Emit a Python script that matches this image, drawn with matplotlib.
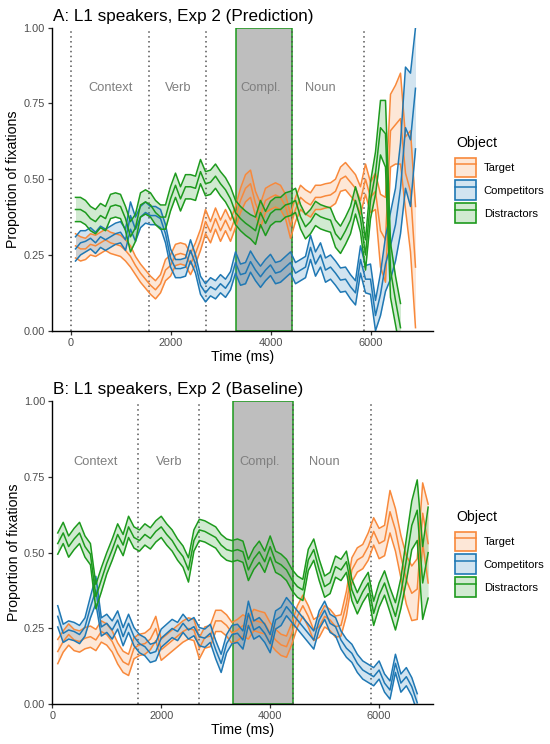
import numpy as np
import matplotlib
matplotlib.use("Agg")
import matplotlib.pyplot as plt
from matplotlib.patches import Patch, Rectangle
from matplotlib.lines import Line2D
from matplotlib.colors import to_rgba

plt.rcParams['font.family'] = ['Liberation Sans', 'DejaVu Sans']

# ---------------- data ----------------
time_ms = list(range(100, 7000, 100))  # sampling grid 100..6900 ms

series_names = ["Target", "Competitors", "Distractors"]
series_colors = ["#F8893B", "#1F78B4", "#1D9A1D"]

phase_labels = ["Context", "Verb", "Compl.", "Noun"]
phase_label_x = [800, 2150, 3800, 5000]
phase_lines = [0, 1570, 2700, 4420, 5860]
compl_start, compl_end = 3310, 4420

# Panel A (Prediction)
a_target = [0.28,0.27,0.27,0.285,0.28,0.29,0.30,0.29,0.285,0.28,
            0.265,0.245,0.215,0.19,0.17,0.15,0.135,0.155,0.20,0.215,
            0.25,0.255,0.25,0.22,0.255,0.30,0.36,0.325,0.37,0.33,
            0.365,0.33,0.375,0.43,0.47,0.485,0.42,0.38,0.43,0.44,
            0.448,0.44,0.41,0.345,0.40,0.44,0.425,0.415,0.44,0.44,
            0.445,0.448,0.46,0.50,0.51,0.49,0.47,0.43,0.50,0.44,
            0.46,0.33,0.30,0.66,0.68,0.70,0.52,0.46,0.21]
a_target_se = [0.04,0.04,0.035,0.035,0.035,0.035,0.035,0.035,0.035,0.035,
               0.035,0.035,0.03,0.03,0.03,0.03,0.03,0.03,0.035,0.035,
               0.035,0.035,0.035,0.035,0.035,0.035,0.04,0.035,0.035,0.035,
               0.035,0.035,0.035,0.04,0.045,0.045,0.04,0.04,0.04,0.04,
               0.04,0.04,0.04,0.04,0.04,0.04,0.04,0.04,0.04,0.04,
               0.04,0.04,0.04,0.04,0.045,0.045,0.045,0.045,0.05,0.05,
               0.06,0.12,0.14,0.12,0.13,0.15,0.12,0.2,0.2]
a_comp = [0.27,0.29,0.295,0.305,0.29,0.31,0.30,0.31,0.32,0.325,
          0.30,0.38,0.335,0.375,0.39,0.38,0.38,0.37,0.32,0.24,
          0.205,0.205,0.21,0.265,0.22,0.15,0.125,0.145,0.135,0.155,
          0.14,0.165,0.225,0.185,0.19,0.228,0.20,0.178,0.20,0.217,
          0.19,0.195,0.21,0.225,0.19,0.20,0.21,0.275,0.22,0.25,
          0.20,0.21,0.19,0.167,0.17,0.145,0.125,0.235,0.17,0.17,
          0.05,0.12,0.22,0.28,0.35,0.47,0.67,0.63,0.80]
a_comp_se = [0.04,0.04,0.035,0.035,0.035,0.035,0.035,0.035,0.035,0.035,
             0.035,0.045,0.04,0.035,0.035,0.03,0.03,0.03,0.03,0.03,
             0.03,0.03,0.03,0.035,0.03,0.03,0.03,0.03,0.03,0.03,
             0.03,0.03,0.035,0.035,0.035,0.035,0.035,0.035,0.035,0.035,
             0.035,0.035,0.035,0.035,0.035,0.035,0.035,0.04,0.04,0.04,
             0.04,0.04,0.04,0.04,0.04,0.04,0.04,0.045,0.045,0.05,
             0.05,0.07,0.09,0.11,0.12,0.15,0.2,0.22,0.2]
a_dist = [0.40,0.40,0.39,0.37,0.36,0.38,0.37,0.41,0.415,0.41,
          0.37,0.31,0.34,0.415,0.425,0.415,0.39,0.375,0.375,0.435,
          0.48,0.435,0.475,0.475,0.47,0.525,0.485,0.49,0.51,0.485,
          0.465,0.435,0.39,0.37,0.355,0.343,0.33,0.39,0.354,0.387,
          0.40,0.40,0.415,0.42,0.43,0.376,0.343,0.36,0.387,0.376,
          0.37,0.365,0.32,0.30,0.33,0.365,0.43,0.37,0.25,0.43,
          0.52,0.67,0.65,0.20,0.10,0.01]
a_dist_se = [0.04,0.04,0.04,0.04,0.04,0.04,0.04,0.04,0.04,0.04,
             0.04,0.05,0.045,0.04,0.04,0.04,0.04,0.04,0.04,0.04,
             0.04,0.04,0.04,0.04,0.04,0.04,0.04,0.04,0.04,0.04,
             0.04,0.04,0.04,0.04,0.04,0.04,0.045,0.04,0.04,0.04,
             0.04,0.04,0.04,0.04,0.04,0.04,0.04,0.04,0.04,0.04,
             0.04,0.04,0.045,0.045,0.045,0.045,0.045,0.045,0.05,0.06,
             0.07,0.09,0.11,0.09,0.08,0.08]

# Panel B (Baseline)
b_target = [0.174,0.207,0.23,0.212,0.207,0.218,0.223,0.212,0.24,0.23,
            0.207,0.168,0.14,0.13,0.185,0.196,0.20,0.215,0.25,0.18,
            0.195,0.21,0.225,0.24,0.25,0.245,0.185,0.22,0.225,0.275,
            0.275,0.26,0.235,0.245,0.26,0.25,0.278,0.272,0.267,0.234,
            0.212,0.196,0.19,0.234,0.29,0.325,0.29,0.245,0.256,0.29,
            0.278,0.256,0.26,0.333,0.443,0.476,0.487,0.52,0.57,0.53,
            0.54,0.635,0.575,0.487,0.41,0.366,0.38,0.63,0.53]
b_target_se = [0.04,0.035,0.035,0.035,0.035,0.035,0.035,0.035,0.035,0.035,
               0.035,0.035,0.035,0.035,0.035,0.035,0.035,0.035,0.04,0.035,
               0.035,0.035,0.035,0.035,0.035,0.035,0.035,0.035,0.035,0.035,
               0.035,0.035,0.035,0.035,0.035,0.035,0.035,0.035,0.035,0.035,
               0.035,0.035,0.035,0.035,0.035,0.035,0.035,0.035,0.035,0.035,
               0.035,0.035,0.035,0.04,0.04,0.04,0.04,0.045,0.045,0.05,
               0.05,0.07,0.07,0.07,0.08,0.09,0.1,0.1,0.13]
b_comp = [0.29,0.234,0.245,0.24,0.23,0.255,0.32,0.377,0.255,0.267,
          0.245,0.278,0.223,0.267,0.223,0.20,0.19,0.168,0.174,0.218,
          0.234,0.25,0.24,0.267,0.245,0.256,0.223,0.218,0.234,0.18,
          0.135,0.20,0.23,0.234,0.212,0.30,0.245,0.256,0.234,0.20,
          0.278,0.29,0.322,0.30,0.278,0.256,0.234,0.212,0.278,0.31,
          0.267,0.256,0.212,0.185,0.168,0.135,0.113,0.102,0.091,0.113,
          0.07,0.047,0.135,0.07,0.091,0.058,0.005]
b_comp_se = [0.035,0.03,0.03,0.03,0.03,0.03,0.035,0.045,0.03,0.03,
             0.03,0.03,0.03,0.03,0.03,0.03,0.03,0.03,0.03,0.03,
             0.03,0.03,0.03,0.03,0.03,0.03,0.03,0.03,0.03,0.03,
             0.03,0.03,0.03,0.03,0.03,0.04,0.03,0.03,0.03,0.03,
             0.03,0.03,0.03,0.03,0.03,0.03,0.03,0.03,0.03,0.03,
             0.03,0.03,0.03,0.03,0.03,0.03,0.03,0.03,0.03,0.03,
             0.03,0.03,0.03,0.03,0.03,0.03,0.03]
b_dist = [0.53,0.565,0.52,0.545,0.565,0.52,0.495,0.355,0.41,0.465,
          0.51,0.56,0.525,0.585,0.55,0.54,0.56,0.547,0.57,0.585,
          0.56,0.54,0.51,0.487,0.443,0.54,0.575,0.57,0.56,0.55,
          0.525,0.51,0.505,0.51,0.503,0.443,0.48,0.503,0.47,0.52,
          0.47,0.46,0.443,0.41,0.388,0.377,0.476,0.51,0.443,0.388,
          0.40,0.454,0.443,0.47,0.377,0.333,0.371,0.40,0.30,0.36,
          0.40,0.344,0.29,0.366,0.476,0.59,0.64,0.40,0.50]
b_dist_se = [0.035,0.035,0.035,0.035,0.035,0.035,0.035,0.04,0.04,0.035,
             0.035,0.035,0.035,0.035,0.035,0.035,0.035,0.035,0.035,0.035,
             0.035,0.035,0.035,0.035,0.04,0.035,0.035,0.035,0.035,0.035,
             0.035,0.035,0.035,0.035,0.035,0.035,0.035,0.035,0.035,0.035,
             0.035,0.035,0.035,0.035,0.035,0.035,0.035,0.035,0.035,0.035,
             0.035,0.035,0.035,0.035,0.035,0.035,0.035,0.035,0.04,0.04,
             0.04,0.04,0.045,0.05,0.07,0.08,0.1,0.12,0.15]

panels = [
    dict(title="A: L1 speakers, Exp 2 (Prediction)", xlim=(-376, 7250),
         means=[a_target, a_comp, a_dist], ses=[a_target_se, a_comp_se, a_dist_se],
         rect=[51.7, 27.7, 433.0, 330.7], legend_title_y=142.7, legend_top=157.5),
    dict(title="B: L1 speakers, Exp 2 (Baseline)", xlim=(0, 6995),
         means=[b_target, b_comp, b_dist], ses=[b_target_se, b_comp_se, b_dist_se],
         rect=[52.3, 401.0, 433.3, 704.3], legend_title_y=516.7, legend_top=531.5),
]

W, H = 550, 744
fig = plt.figure(figsize=(W / 100, H / 100), dpi=100)

green_edge = "#1D9A1D"
for p in panels:
    l, t, r, b = p["rect"]
    ax = fig.add_axes([l / W, 1 - b / H, (r - l) / W, (b - t) / H])
    ax.set_xlim(*p["xlim"])
    ax.set_ylim(0, 1)

    ax.add_patch(Rectangle((compl_start, 0), compl_end - compl_start, 1,
                           facecolor="#BEBEBE", edgecolor=green_edge, lw=1.1, zorder=1))
    for xv in phase_lines:
        ax.axvline(xv, color="#555555", lw=1.1, ls=(0, (1, 2.2)), zorder=1.5)
    for lab, xv in zip(phase_labels, phase_label_x):
        ax.text(xv, 0.8, lab, ha="center", va="center", fontsize=9.3, color="#7F7F7F", zorder=2)

    for name, col, m, s in zip(series_names, series_colors, p["means"], p["ses"]):
        m = np.array(m, dtype=float)
        s = np.array(s, dtype=float)
        tt = np.array(time_ms[:len(m)], dtype=float)
        ax.fill_between(tt, m - s, m + s, color=col, alpha=0.2, lw=0, zorder=3)
        ax.plot(tt, m + s, color=col, lw=1.1, zorder=4)
        ax.plot(tt, m - s, color=col, lw=1.1, zorder=4)
        ax.plot(tt, m, color=col, lw=1.1, zorder=4)

    for sp in ["top", "right"]:
        ax.spines[sp].set_visible(False)
    for sp in ["left", "bottom"]:
        ax.spines[sp].set_color("black")
        ax.spines[sp].set_linewidth(1.0)
        ax.spines[sp].set_zorder(6)
    ax.set_xticks([0, 2000, 4000, 6000])
    ax.set_xticklabels(["0", "2000", "4000", "6000"])
    ax.set_yticks([0, 0.25, 0.5, 0.75, 1.0])
    ax.set_yticklabels(["0.00", "0.25", "0.50", "0.75", "1.00"])
    ax.tick_params(axis="both", labelsize=7.9, labelcolor="#4D4D4D", color="#333333",
                   length=3, width=0.9, pad=2)
    ax.set_xlabel("Time (ms)", fontsize=10.2, labelpad=1.5)
    ax.set_ylabel("Proportion of fixations", fontsize=10.2, labelpad=2.5)
    ax.set_title(p["title"], fontsize=12.3, loc="left", pad=5, x=0.003)

    fig.text(456 / W, 1 - p["legend_title_y"] / H, "Object", fontsize=10.2,
             ha="left", va="center")
    handles = []
    for col in series_colors:
        patch = Patch(facecolor=to_rgba(col, 0.2), edgecolor=col, lw=1.2)
        line = Line2D([0], [0], color=col, lw=1.1)
        handles.append((patch, line))
    leg = fig.legend(handles, series_names, loc="upper left",
                     bbox_to_anchor=(455 / W, 1 - p["legend_top"] / H),
                     frameon=False, fontsize=8.1,
                     handlelength=1.85, handleheight=2.3, handletextpad=0.7,
                     labelspacing=0.3, borderpad=0, borderaxespad=0)

fig.savefig("out.png", dpi=100)
